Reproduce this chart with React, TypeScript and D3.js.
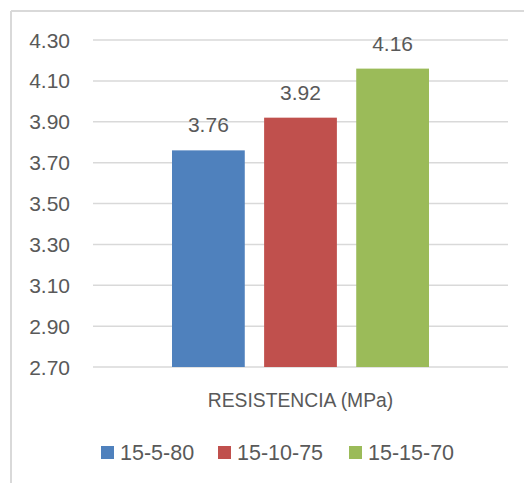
import React from "react";
import * as d3 from "d3";

const categories = ["RESISTENCIA (MPa)"];
const seriesNames = ["15-5-80", "15-10-75", "15-15-70"];
const seriesValues = [3.76, 3.92, 4.16];
const seriesColors = ["#4f81bd", "#c0504d", "#9bbb59"];
const yTicks = [2.7, 2.9, 3.1, 3.3, 3.5, 3.7, 3.9, 4.1, 4.3];

const W = 524;
const H = 483;
const plot = { left: 93, right: 508, top: 40, bottom: 367 };
const FONT = "'Liberation Sans', Arial, sans-serif";
const TEXT = "#595959";
const GRID = "#d9d9d9";

export default function App() {
  const y = d3.scaleLinear().domain([2.7, 4.3]).range([plot.bottom, plot.top]);
  const x0 = d3.scaleBand().domain(categories).range([plot.left, plot.right]);
  const x1 = d3
    .scaleBand()
    .domain(seriesNames)
    .range([79, x0.bandwidth() - 79])
    .paddingInner(0.21);

  return (
    <svg
      width={W}
      height={H}
      style={{ position: "fixed", left: 0, top: 0, background: "#fff" }}
      fontFamily={FONT}
    >
      <rect x={0} y={0} width={W} height={H} fill="#fff" />
      {/* chart frame */}
      <line x1={11} y1={11} x2={W} y2={11} stroke={GRID} strokeWidth={2} />
      <line x1={11} y1={11} x2={11} y2={H} stroke={GRID} strokeWidth={2} />

      {/* gridlines and tick labels */}
      {yTicks.map((t) => (
        <g key={t}>
          <line
            x1={plot.left}
            x2={plot.right}
            y1={y(t)}
            y2={y(t)}
            stroke={GRID}
            strokeWidth={1.5}
          />
          <text
            x={70}
            y={y(t)}
            dy="0.36em"
            textAnchor="end"
            fontSize={21}
            fill={TEXT}
          >
            {t.toFixed(2)}
          </text>
        </g>
      ))}

      {/* bars with value labels */}
      {categories.map((c) => (
        <g key={c} transform={`translate(${x0(c)},0)`}>
          {seriesNames.map((s, i) => {
            const v = seriesValues[i];
            const bx = x1(s)!;
            return (
              <g key={s}>
                <rect
                  x={bx}
                  y={y(v)}
                  width={x1.bandwidth()}
                  height={y(2.7) - y(v)}
                  fill={seriesColors[i]}
                />
                <text
                  x={bx + x1.bandwidth() / 2}
                  y={y(v) - 18}
                  textAnchor="middle"
                  fontSize={21}
                  fill={TEXT}
                >
                  {v.toFixed(2)}
                </text>
              </g>
            );
          })}
          <text
            x={x0.bandwidth() / 2}
            y={407}
            textAnchor="middle"
            fontSize={19.3}
            fill={TEXT}
          >
            {c}
          </text>
        </g>
      ))}

      {/* legend */}
      {seriesNames.map((s, i) => {
        const lx = [101, 218, 349][i];
        return (
          <g key={s}>
            <rect x={lx} y={446} width={13} height={13} fill={seriesColors[i]} />
            <text x={lx + 19} y={460} fontSize={21.5} fill={TEXT}>
              {s}
            </text>
          </g>
        );
      })}
    </svg>
  );
}
